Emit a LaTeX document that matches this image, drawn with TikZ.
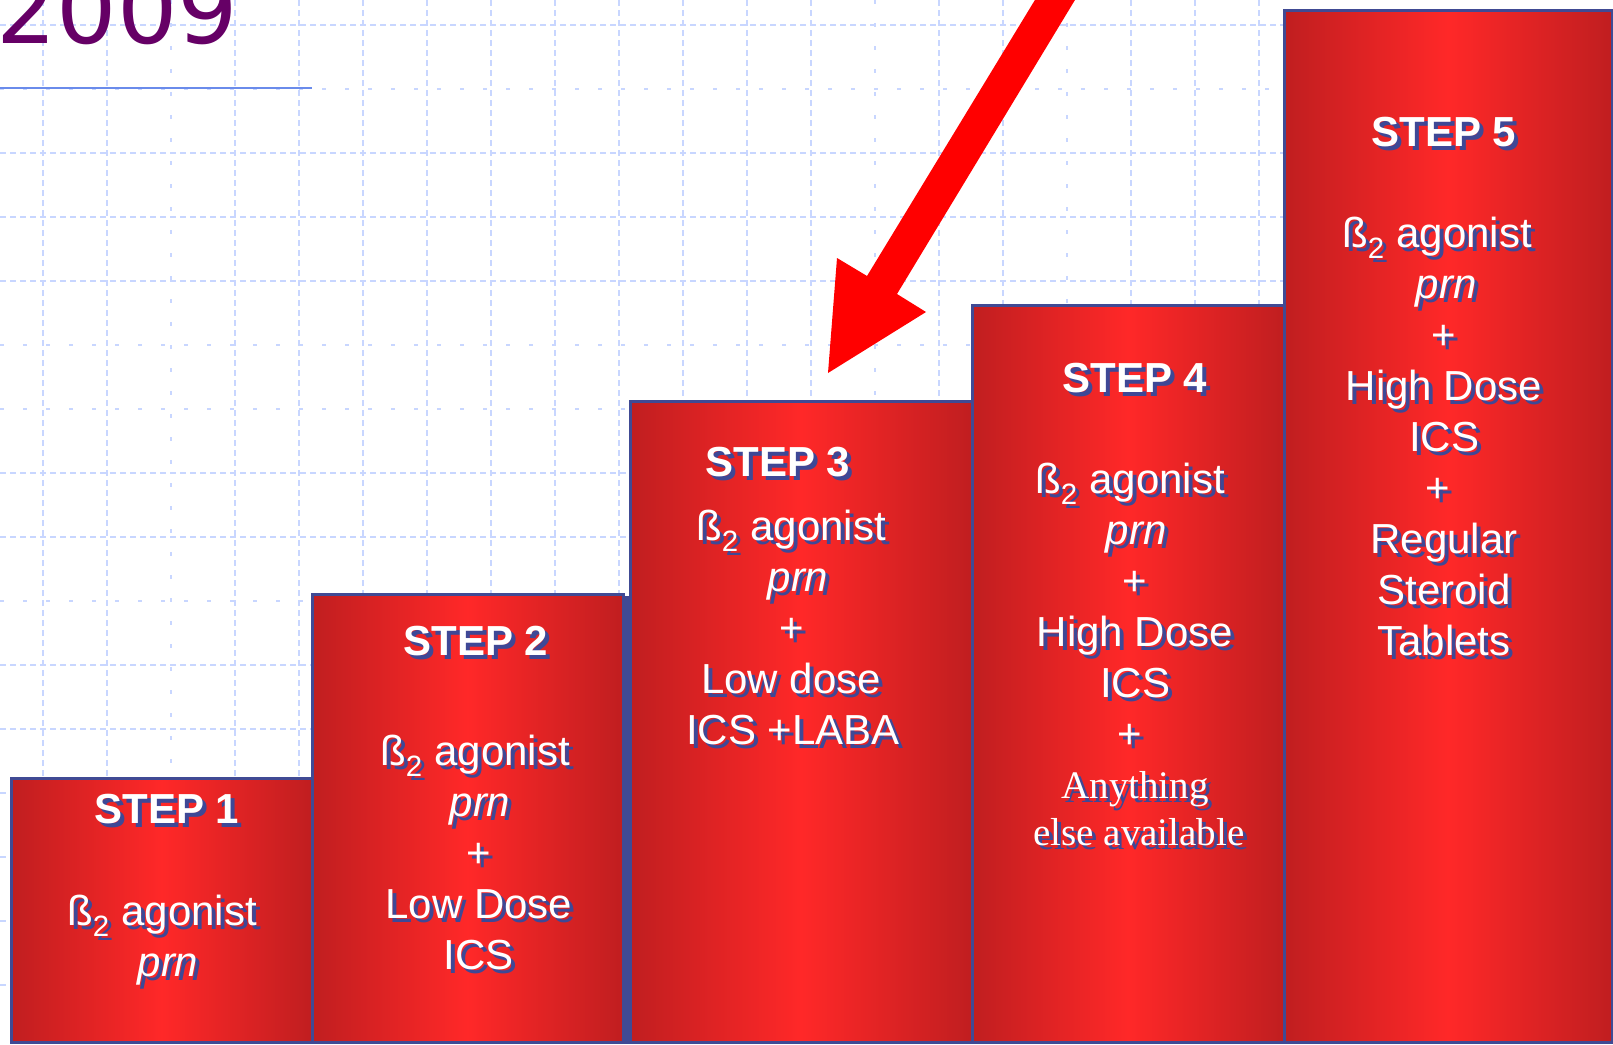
\documentclass[tikz,border=0pt]{standalone}
\usepackage{fontspec}
\setmainfont{Liberation Sans}
\newfontfamily\serifface{Liberation Serif}
\newfontfamily\yearface{DejaVu Sans}
\definecolor{gridblue}{RGB}{200,214,255}
\definecolor{borderblue}{RGB}{64,74,148}
\definecolor{shadowblue}{RGB}{62,72,150}
\definecolor{stepdark}{RGB}{192,30,32}
\definecolor{stepbright}{RGB}{255,40,40}
\definecolor{yearpurple}{RGB}{102,0,102}
\definecolor{rulerblue}{RGB}{106,139,235}
\tikzset{
  gridline/.style={draw=gridblue, line width=2.5pt, dash pattern=on 6pt off 4pt},
  gridsparse/.style={draw=gridblue, line width=2.5pt, dash pattern=on 4pt off 19pt},
  stepbox/.style={draw=borderblue, line width=3pt, left color=stepdark, right color=stepdark, middle color=stepbright, shading angle=90},
  txtbase/.style={anchor=base, inner sep=0pt, outer sep=0pt},
  shadowtxt/.style={txtbase, text=shadowblue},
  lighttxt/.style={txtbase, text=white},
  titlefont/.style={font=\fontsize{42}{49}\selectfont\bfseries},
  bodyfont/.style={font=\fontsize{42}{51}\selectfont},
  seriffont/.style={font=\serifface\fontsize{39}{46}\selectfont},
}
\newcommand{\shtxt}[5][]{%
  \node[shadowtxt,#1] at (#3+4,#4+4) {#5};
  \node[lighttxt,#1] (#2) at (#3,#4) {#5};}
\newcommand{\bsub}{ß\textsubscript{2} agonist}
\begin{document}
\begin{tikzpicture}[x=1pt,y=-1pt]
\clip (0,0) rectangle (1613,1044);
\fill[white] (0,0) rectangle (1613,1044);
% grid
\foreach \x in {43,107,235,299,363,427,491,555,619,683,747,811,939,1003,1131,1195,1259}
  \draw[gridline] (\x,0) -- (\x,1044);
\foreach \x in {171,875,1067}
  \draw[gridsparse] (\x,0) -- (\x,1044);
\foreach \y in {25,153,217,281,473,537,665,729,793,857,921,985}
  \draw[gridline] (0,\y) -- (1613,\y);
\foreach \y in {89,345,409,601}
  \draw[gridsparse] (0,\y) -- (1613,\y);
% title
\node[anchor=base west, inner sep=0pt, text=yearpurple, font=\yearface\fontsize{95}{100}\selectfont] (year) at (-4,43) {2009};
\coordinate (rulestart) at (0,88);
\coordinate (ruleend) at (312,88);
\draw[rulerblue, line width=2.5pt] (rulestart) -- (ruleend);
% boxes
\draw[stepbox] (11,778) rectangle (312,1042);
\draw[stepbox] (312,594) rectangle (623,1042);
\fill[borderblue] (623,596) rectangle (631,1044);
\draw[stepbox] (630,401) rectangle (972,1042);
\draw[stepbox] (972,305) rectangle (1284,1042);
\draw[stepbox] (1284,10) rectangle (1612,1042);
% step 1
\shtxt[titlefont]{t1}{167}{823}{STEP 1}
\shtxt[bodyfont]{s1a}{162}{925}{\bsub}
\shtxt[bodyfont]{s1b}{168}{976}{\textit{prn}}
% step 2
\shtxt[titlefont]{t2}{476}{655}{STEP 2}
\shtxt[bodyfont]{s2a}{475}{765}{\bsub}
\shtxt[bodyfont]{s2b}{480}{816}{\textit{prn}}
\shtxt[bodyfont]{s2c}{479}{867}{+}
\shtxt[bodyfont]{s2d}{479}{918}{Low Dose}
\shtxt[bodyfont]{s2e}{479}{969}{ICS}
% step 3
\shtxt[titlefont]{t3}{778}{476}{STEP 3}
\shtxt[bodyfont]{s3a}{791}{540}{\bsub}
\shtxt[bodyfont]{s3b}{798}{591}{\textit{prn}}
\shtxt[bodyfont]{s3c}{792}{642}{+}
\shtxt[bodyfont]{s3d}{791}{693}{Low dose}
\shtxt[bodyfont]{s3e}{793}{744}{ICS +LABA}
% step 4
\shtxt[titlefont]{t4}{1135}{392}{STEP 4}
\shtxt[bodyfont]{s4a}{1130}{493}{\bsub}
\shtxt[bodyfont]{s4b}{1136}{544}{\textit{prn}}
\shtxt[bodyfont]{s4c}{1135}{595}{+}
\shtxt[bodyfont]{s4d}{1135}{646}{High Dose}
\shtxt[bodyfont]{s4e}{1135}{697}{ICS}
\shtxt[bodyfont]{s4f}{1130}{748}{+}
\shtxt[seriffont]{s4g}{1135}{798}{Anything}
\shtxt[seriffont]{s4h}{1139}{845}{else available}
% step 5
\shtxt[titlefont]{t5}{1444}{146}{STEP 5}
\shtxt[bodyfont]{s5a}{1437}{247}{\bsub}
\shtxt[bodyfont]{s5b}{1446}{298}{\textit{prn}}
\shtxt[bodyfont]{s5c}{1444}{349}{+}
\shtxt[bodyfont]{s5d}{1444}{400}{High Dose}
\shtxt[bodyfont]{s5e}{1444}{451}{ICS}
\shtxt[bodyfont]{s5f}{1438}{502}{+}
\shtxt[bodyfont]{s5g}{1444}{553}{Regular}
\shtxt[bodyfont]{s5h}{1444}{604}{Steroid}
\shtxt[bodyfont]{s5i}{1444}{655}{Tablets}
% arrow
\fill[red] (828,373) -- (837,258) -- (867,276) -- (1041,-10) -- (1081,-10) -- (897,294) -- (926,312) -- cycle;
\end{tikzpicture}
\end{document}
